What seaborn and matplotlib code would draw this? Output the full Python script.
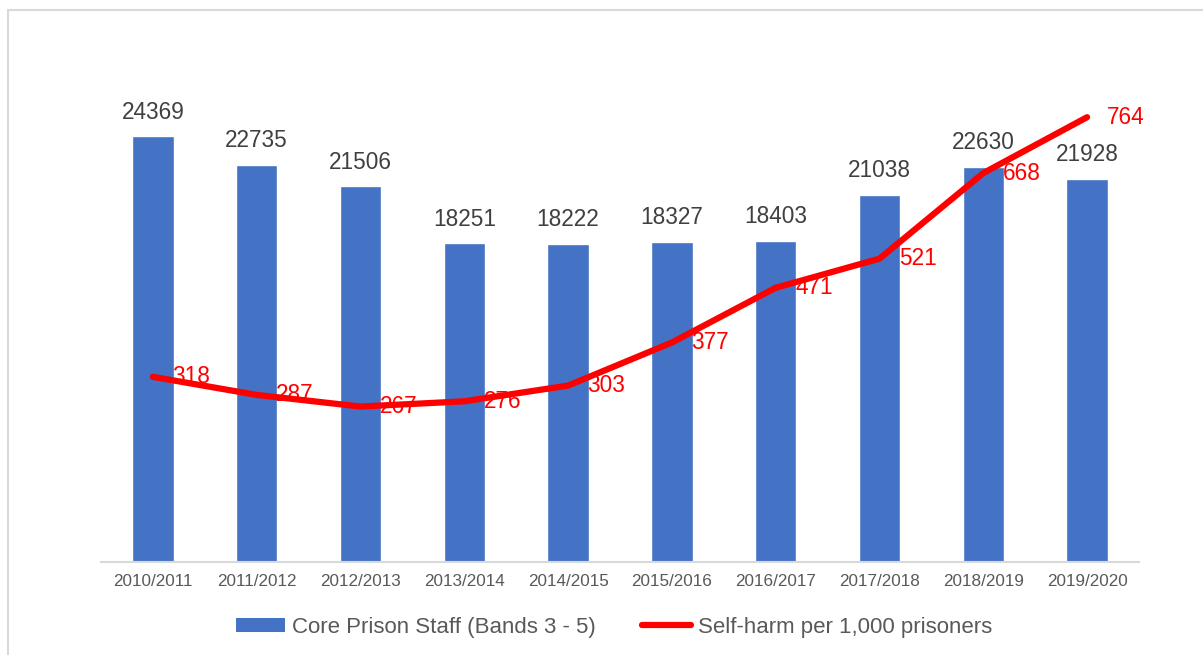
import numpy as np
import pandas as pd
import matplotlib
matplotlib.use("Agg")
import matplotlib.pyplot as plt
import seaborn as sns
from matplotlib.lines import Line2D
from matplotlib.patches import Patch

years = ["2010/2011", "2011/2012", "2012/2013", "2013/2014", "2014/2015",
         "2015/2016", "2016/2017", "2017/2018", "2018/2019", "2019/2020"]
staff = [24369, 22735, 21506, 18251, 18222, 18327, 18403, 21038, 22630, 21928]
self_harm = [318, 287, 267, 276, 303, 377, 471, 521, 668, 764]

bar_name = "Core Prison Staff (Bands 3 - 5)"
line_name = "Self-harm per 1,000 prisoners"

BAR_COLOR = "#4472C4"
LINE_COLOR = "#FF0000"

sns.set_theme(style="white")
plt.rcParams["font.family"] = ["Liberation Sans", "DejaVu Sans"]

fig = plt.figure(figsize=(12.03, 6.55), dpi=100)
ax = fig.add_axes([101 / 1203, 93 / 655, 1038 / 1203, 524 / 655])

df = pd.DataFrame({"year": years, "staff": staff, "self_harm": self_harm})
sns.barplot(data=df, x="year", y="staff", color=BAR_COLOR, width=0.4,
            saturation=1, ax=ax)
ax.set_xlim(-0.5, len(years) - 0.5)
ax.set_ylim(0, 30000)
ax.set_xlabel("")
ax.set_ylabel("")
ax.set_yticks([])
for s in ["top", "right", "left"]:
    ax.spines[s].set_visible(False)
ax.spines["bottom"].set_color("#d9d9d9")
ax.spines["bottom"].set_linewidth(1.5)
ax.tick_params(axis="x", length=0, pad=9, labelsize=12.3, labelcolor="#595959")

for cont in ax.containers:
    ax.bar_label(cont, labels=[str(v) for v in staff], padding=9,
                 fontsize=16.3, color="#404040")

ax2 = ax.twinx()
df["pos"] = np.arange(len(years))
sns.lineplot(data=df, x="pos", y="self_harm", color=LINE_COLOR, linewidth=4.5,
             ax=ax2, solid_joinstyle="round", solid_capstyle="round")
ax2.set_ylim(0, 900)
ax2.set_xlim(-0.5, len(years) - 0.5)
ax2.set_yticks([])
ax2.set_ylabel("")
ax2.set_xlabel("")
for s in ["top", "right", "left", "bottom"]:
    ax2.spines[s].set_visible(False)

for i, v in enumerate(self_harm):
    ax2.annotate(str(v), (i, v), xytext=(14, 0), textcoords="offset points",
                 ha="left", va="center", fontsize=16.3, color=LINE_COLOR)

handles = [Patch(facecolor=BAR_COLOR, edgecolor="none", label=bar_name),
           Line2D([0], [0], color=LINE_COLOR, lw=4.5, solid_capstyle="round",
                  label=line_name)]
fig.legend(handles=handles, loc="center", bbox_to_anchor=(614 / 1203, 1 - 627 / 655),
           ncol=2, frameon=False, fontsize=16, labelcolor="#595959",
           handlelength=2.2, handleheight=0.6, handletextpad=0.3,
           columnspacing=2.1)

# chart frame (top and left edges visible)
fig.add_artist(Line2D([8 / 1203, 1.0], [1 - 10 / 655, 1 - 10 / 655],
                      transform=fig.transFigure, color="#d9d9d9", lw=1.5))
fig.add_artist(Line2D([8 / 1203, 8 / 1203], [0, 1 - 10 / 655],
                      transform=fig.transFigure, color="#d9d9d9", lw=1.5))

fig.savefig("out.png", dpi=100, facecolor="white")
